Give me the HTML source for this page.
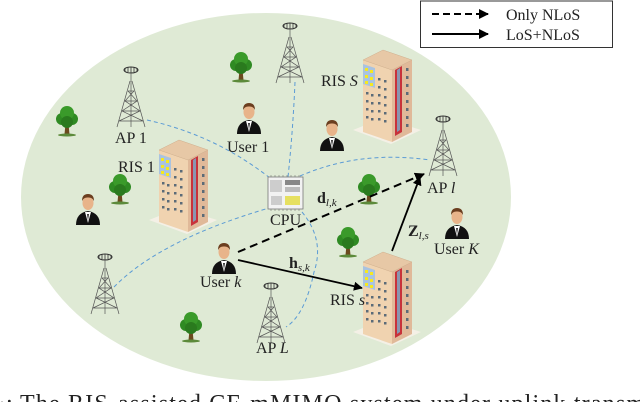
<!DOCTYPE html>
<html><head><meta charset="utf-8"><style>
html,body{margin:0;padding:0;background:#fff;width:640px;height:402px;overflow:hidden}
svg{display:block}
text{font-family:"Liberation Serif",serif;fill:#222}
</style></head><body>
<svg width="640" height="402" viewBox="0 0 640 402" xmlns="http://www.w3.org/2000/svg">
<defs>
<marker id="ah" viewBox="0 0 10 10" refX="9" refY="5" markerWidth="5" markerHeight="5" orient="auto"><path d="M0,0 L10,5 L0,10 z" fill="#000"/></marker>
<g id="tower">
  <ellipse cx="0" cy="3" rx="7" ry="3" fill="none" stroke="#333" stroke-width="1"/>
  <path d="M-6,1 v4 M-3,0 v5 M0,0 v6 M3,0 v5 M6,1 v4" stroke="#333" stroke-width="0.8"/>
  <path d="M0,6 V14 M-1,14 L-14,60 M1,14 L14,60 M-3,24 L3,24 M-6,34 L6,34 M-9,44 L9,44 M-12,54 L12,54 M-3,24 L6,34 L-9,44 L12,54 M3,24 L-6,34 L9,44 L-12,54 M0,14 V60" stroke="#555" stroke-width="0.7" fill="none"/>
</g>
<g id="tree">
  <path d="M-1.5,6 L-2.5,16 L2.5,16 L1.5,6 z" fill="#6b4a1e"/>
  <ellipse cx="0" cy="17" rx="9" ry="1.5" fill="#5c8a3a"/>
  <circle cx="-5" cy="1" r="6" fill="#2f8a23"/><circle cx="5" cy="1" r="6" fill="#2f8a23"/>
  <circle cx="0" cy="-5" r="7" fill="#3a9a2a"/><circle cx="0" cy="4" r="6" fill="#2a7a1e"/>
</g>
<g id="person">
  <path d="M-12,30 Q-12,18 0,16 Q12,18 12,30 z" fill="#111"/>
  <path d="M-3,17 L0,28 L3,17 z" fill="#fff"/>
  <path d="M-1,19 L0,26 L1,19 z" fill="#333"/>
  <ellipse cx="0" cy="8" rx="5.5" ry="7" fill="#e8b48a"/>
  <path d="M-6,6 Q-6,-1 0,-1 Q6,-1 6,6 Q4,2 0,2.5 Q-4,2 -6,6 z" fill="#6b3e1f"/>
</g>
<g id="bldg">
  <path d="M-10,82 L28,96 L58,82 L20,70 z" fill="#f4f0e6"/>
  <path d="M0,12 L29,22 L29,94 L0,84 z" fill="#f0d3b0"/>
  <path d="M29,22 L49,12 L49,84 L29,94 z" fill="#e0b999"/>
  <path d="M0,12 L20,2 L49,12 L29,22 z" fill="#e7c8a6" stroke="#cfae8c" stroke-width="0.5"/>
  <path d="M0,16 L12,20 L12,40 L0,36 z" fill="#a9c3e0"/>
  <g fill="#f5e820"><rect x="2" y="20" width="3" height="3"/><rect x="7" y="22" width="3" height="3"/><rect x="2" y="27" width="3" height="3"/><rect x="7" y="29" width="3" height="3"/><rect x="2" y="33" width="3" height="3"/><rect x="7" y="35" width="3" height="3"/></g>
  <g fill="#5b6b78">
   <rect x="15" y="30" width="2.5" height="2.5"/><rect x="21" y="32" width="2.5" height="2.5"/>
   <rect x="15" y="38" width="2.5" height="2.5"/><rect x="21" y="40" width="2.5" height="2.5"/>
   <rect x="15" y="46" width="2.5" height="2.5"/><rect x="21" y="48" width="2.5" height="2.5"/>
   <rect x="15" y="54" width="2.5" height="2.5"/><rect x="21" y="56" width="2.5" height="2.5"/>
   <rect x="15" y="62" width="2.5" height="2.5"/><rect x="21" y="64" width="2.5" height="2.5"/>
   <rect x="15" y="70" width="2.5" height="2.5"/><rect x="21" y="72" width="2.5" height="2.5"/>
   <rect x="3" y="44" width="2.5" height="2.5"/><rect x="8" y="46" width="2.5" height="2.5"/>
   <rect x="3" y="52" width="2.5" height="2.5"/><rect x="8" y="54" width="2.5" height="2.5"/>
   <rect x="3" y="60" width="2.5" height="2.5"/><rect x="8" y="62" width="2.5" height="2.5"/>
   <rect x="3" y="68" width="2.5" height="2.5"/><rect x="8" y="70" width="2.5" height="2.5"/>
   <rect x="43" y="20" width="2.5" height="3"/><rect x="43" y="28" width="2.5" height="3"/><rect x="43" y="36" width="2.5" height="3"/><rect x="43" y="44" width="2.5" height="3"/><rect x="43" y="52" width="2.5" height="3"/><rect x="43" y="60" width="2.5" height="3"/><rect x="43" y="68" width="2.5" height="3"/><rect x="43" y="76" width="2.5" height="3"/>
  </g>
  <path d="M32,22 L39,18 L39,84 L32,88 z" fill="#c8323a"/>
  <path d="M34,22 L37,20 L37,82 L34,84 z" fill="#8a96b0"/>
</g>
</defs>

<ellipse cx="266" cy="197" rx="245" ry="184" fill="#dfead5"/>

<g fill="none" stroke="#5b9bd5" stroke-width="1" stroke-dasharray="4,3">
  <path d="M147,120 Q215,135 270,178"/>
  <path d="M295,82 Q293,130 288,177"/>
  <path d="M300,176 Q360,150 430,160"/>
  <path d="M114,287 Q160,240 269,208"/>
  <path d="M302,212 Q325,240 314,272 Q305,315 286,327"/>
</g>

<use href="#tree" x="241" y="64"/>
<use href="#tree" x="67" y="118"/>
<use href="#tree" x="120" y="186"/>
<use href="#tree" x="369" y="186"/>
<use href="#tree" x="348" y="239"/>
<use href="#tree" x="191" y="324"/>

<use href="#tower" x="290" y="23"/>
<use href="#tower" x="131" y="67"/>
<use href="#tower" x="443" y="116"/>
<use href="#tower" x="105" y="254"/>
<use href="#tower" x="271" y="283"/>

<use href="#bldg" x="363" y="48"/>
<use href="#bldg" x="159" y="138"/>
<use href="#bldg" x="363" y="250"/>

<use href="#person" x="249" y="104"/>
<use href="#person" x="332" y="121"/>
<use href="#person" x="88" y="195"/>
<use href="#person" x="457" y="209"/>
<use href="#person" x="224" y="244"/>

<g transform="translate(268,177)">
  <rect x="0" y="0" width="35" height="32" fill="#f2f2f2" stroke="#777" stroke-width="0.8"/>
  <g stroke="#777" stroke-width="0.6"><path d="M3,-2 v2 M7,-2 v2 M11,-2 v2 M15,-2 v2 M19,-2 v2 M23,-2 v2 M27,-2 v2 M31,-2 v2 M3,32 v2 M7,32 v2 M11,32 v2 M15,32 v2 M19,32 v2 M23,32 v2 M27,32 v2 M31,32 v2"/>
  <path d="M3,3 v12 M5,3 v12 M7,3 v12 M9,3 v12 M11,3 v12 M13,3 v12"/></g>
  <rect x="17" y="3" width="15" height="5" fill="#888"/>
  <rect x="17" y="10" width="15" height="5" fill="#bbb"/>
  <rect x="17" y="19" width="15" height="9" fill="#e6e060"/>
  <rect x="3" y="19" width="11" height="9" fill="#ccc"/>
</g>

<line x1="238" y1="252" x2="424" y2="174" stroke="#000" stroke-width="2" stroke-dasharray="8,5" marker-end="url(#ah)"/>
<line x1="238" y1="260" x2="362" y2="288" stroke="#000" stroke-width="1.8" marker-end="url(#ah)"/>
<line x1="392" y1="251" x2="420" y2="177" stroke="#000" stroke-width="1.8" marker-end="url(#ah)"/>

<g font-size="16">
<text x="115" y="143">AP 1</text>
<text x="321" y="86">RIS <tspan font-style="italic">S</tspan></text>
<text x="227" y="152">User 1</text>
<text x="427" y="193">AP <tspan font-style="italic">l</tspan></text>
<text x="118" y="172">RIS 1</text>
<text x="270" y="225">CPU</text>
<text x="434" y="254">User <tspan font-style="italic">K</tspan></text>
<text x="200" y="287">User <tspan font-style="italic">k</tspan></text>
<text x="256" y="353">AP <tspan font-style="italic">L</tspan></text>
<text x="330" y="305">RIS <tspan font-style="italic">s</tspan></text>
<text x="317" y="203" font-weight="bold">d<tspan font-size="11" font-style="italic" font-weight="normal" dy="3">l,k</tspan></text>
<text x="289" y="268" font-weight="bold">h<tspan font-size="11" font-style="italic" font-weight="normal" dy="3">s,k</tspan></text>
<text x="408" y="236" font-weight="bold">Z<tspan font-size="11" font-style="italic" font-weight="normal" dy="3">l,s</tspan></text>
</g>

<rect x="420.5" y="1" width="192" height="46.5" fill="#fff" stroke="#333" stroke-width="1"/>
<line x1="432" y1="14" x2="488" y2="14" stroke="#000" stroke-width="2" stroke-dasharray="7,4" marker-end="url(#ah)"/>
<line x1="432" y1="34" x2="488" y2="34" stroke="#000" stroke-width="2" marker-end="url(#ah)"/>
<text x="506" y="20" font-size="16">Only NLoS</text>
<text x="506" y="40" font-size="16">LoS+NLoS</text>

<text x="-2" y="411" font-size="24">·:</text>
<text x="20" y="411" font-size="24" textLength="625" lengthAdjust="spacing">The RIS-assisted CF-mMIMO system under uplink transm</text>
</svg>
</body></html>
